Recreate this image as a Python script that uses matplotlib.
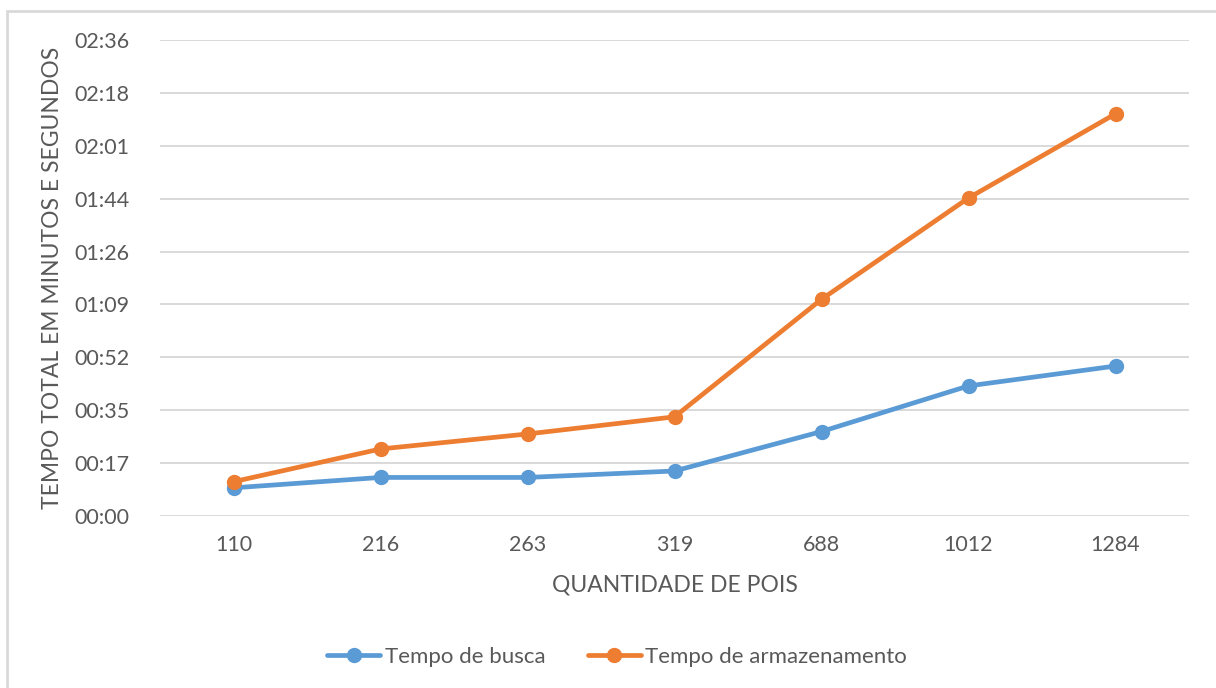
import matplotlib.pyplot as plt
from matplotlib.patches import Rectangle
from matplotlib.ticker import FuncFormatter

# quantidade de POIs e tempos (segundos)
pois = ["110", "216", "263", "319", "688", "1012", "1284"]
tempo_busca = [9.2, 12.6, 12.6, 14.7, 27.6, 42.5, 49.0]
tempo_armazenamento = [11.2, 21.9, 26.8, 32.4, 70.8, 103.9, 131.4]

# passo do eixo em segundos (0.0002 dia, como no Excel)
passo = 17.28
n_ticks = 10

plt.rcParams['font.family'] = ['Lato', 'DejaVu Sans']
cinza = "#595959"

fig = plt.figure(figsize=(12.16, 6.88), dpi=100)
ax = fig.add_axes([160 / 1216, 1 - 516 / 688, 1029 / 1216, 476 / 688])

x = range(len(pois))
ax.plot(x, tempo_busca, color="#5B9BD5", lw=3.4, marker="o", ms=10,
        label="Tempo de busca", solid_capstyle="round")
ax.plot(x, tempo_armazenamento, color="#ED7D31", lw=3.4, marker="o", ms=10,
        label="Tempo de armazenamento", solid_capstyle="round")

ax.set_xlim(-0.5, len(pois) - 0.5)
ax.set_ylim(0, passo * (n_ticks - 1))
ax.set_xticks(list(x))
ax.set_xticklabels(pois)
ax.set_yticks([passo * i for i in range(n_ticks)])


def mmss(v, pos):
    s = int(round(v))
    return "%02d:%02d" % (s // 60, s % 60)


ax.yaxis.set_major_formatter(FuncFormatter(mmss))
ax.grid(axis="y", color="#D9D9D9", lw=1.4)
ax.set_axisbelow(True)
for sp in ax.spines.values():
    sp.set_visible(False)
ax.tick_params(length=0, labelsize=15.5, colors=cinza)
ax.tick_params(axis="y", pad=22)
ax.tick_params(axis="x", pad=14)

ax.set_xlabel("QUANTIDADE DE POIS", fontsize=16.5, color=cinza, labelpad=14)
ax.set_ylabel("TEMPO TOTAL EM MINUTOS E SEGUNDOS", fontsize=16.5, color=cinza,
              labelpad=8)

fig.legend(loc="center", bbox_to_anchor=(617 / 1216, 1 - 657 / 688), ncol=2,
           frameon=False, fontsize=16, labelcolor=cinza, handlelength=2.4,
           columnspacing=1.9, handletextpad=0.2)

fig.patches.append(Rectangle((7 / 1216, -0.1), 1.2, 1 - 11 / 688 + 0.1,
                             transform=fig.transFigure, fill=False,
                             edgecolor="#D9D9D9", lw=2))

fig.savefig("out.png", dpi=100)
